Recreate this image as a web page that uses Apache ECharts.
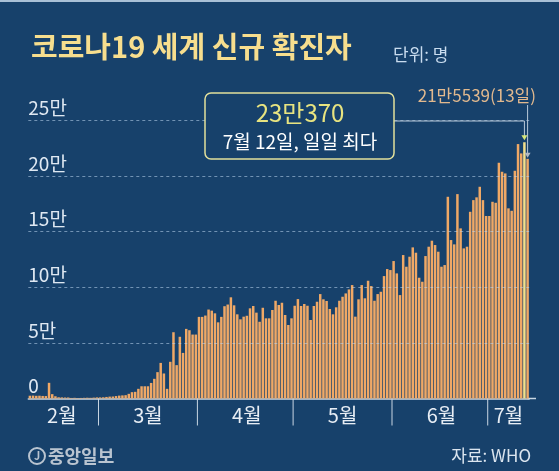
<!DOCTYPE html>
<html>
<head>
<meta charset="utf-8">
<style>
html, body { margin: 0; padding: 0; background: #17416b; }
#chart { width: 559px; height: 471px; }
</style>
<script src="https://cdn.jsdelivr.net/npm/echarts@6/dist/echarts.min.js"></script>
</head>
<body>
<div id="chart"></div>
<script>
// 2020년 2월 8일 ~ 7월 13일 일별 신규 확진자 (WHO)
var febCases = [2500, 2600, 2400, 2500, 2300, 2200, 14100, 3900, 2000, 1100, 1000, 900, 900, 500, 600, 400, 500, 600, 700, 600, 800, 1000];
var marCases = [1000, 1100, 1400, 1700, 1800, 2200, 2600, 2800, 3000, 4200, 5700, 6000, 8700, 11000, 11000, 11000, 14000, 17700, 23700, 32000, 22500, 8700, 33000, 59600, 30000, 55500, 41000, 62600, 61400, 57500, 57500];
var aprCases = [73400, 73400, 74600, 80000, 79000, 76600, 68500, 73400, 83000, 84500, 91000, 83800, 75700, 71200, 73600, 74400, 81100, 83200, 77200, 69000, 81600, 72100, 72100, 79600, 87900, 84100, 86100, 75100, 66100, 72100];
var mayCases = [83400, 89400, 83200, 85000, 83400, 70600, 83200, 87000, 93900, 89200, 87700, 80500, 75700, 82000, 87900, 91500, 94500, 98100, 102000, 73600, 89200, 102000, 90100, 105900, 101100, 87900, 93900, 96000, 110100, 116400, 115500];
var junCases = [123600, 112500, 93000, 129000, 118500, 127500, 135900, 131100, 108600, 105000, 128100, 136500, 141900, 138000, 132000, 118500, 120000, 181400, 142500, 138600, 183800, 153000, 135000, 136500, 167900, 178400, 180900, 190400, 178400, 164100];
var julCases = [164100, 176900, 176000, 212000, 203900, 202400, 171000, 168800, 204800, 228800, 220400, 230370, 215539];

var monthNums = [2, 3, 4, 5, 6, 7];
var firstDays = [8, 1, 1, 1, 1, 1];
var labelDays = [18, 16, 16, 16, 16, 7];   // 월 이름을 붙이는 날 (각 구간 가운데)
var yTicks = [0, 50000, 100000, 150000, 200000, 250000];

var FONT = 'Noto Sans CJK KR';
var BG = '#17416b';
var AXIS_COLOR = '#c9d6e3';

var monthly = [febCases, marCases, aprCases, mayCases, junCases, julCases];
var days = [];
var cases = [];
monthly.forEach(function (arr, k) {
    arr.forEach(function (v, j) {
        days.push(monthNums[k] + '/' + (firstDays[k] + j));
        cases.push(v);
    });
});

var peakIdx = 0;
cases.forEach(function (v, i) { if (v > cases[peakIdx]) peakIdx = i; });
var lastIdx = cases.length - 1;

function man(v) {
    return Math.floor(v / 10000) + '만' + (v % 10000);
}
function parts(d) {
    var p = d.split('/');
    return [+p[0], +p[1]];
}

var chart = echarts.init(document.getElementById('chart'));
var option = {
    animation: false,
    backgroundColor: BG,
    title: [{
        text: '코로나19 세계 신규 확진자',
        left: 26,
        top: 27,
        textStyle: { color: '#f7de8e', fontSize: 29, fontWeight: 'bold', fontFamily: FONT }
    }, {
        text: '단위: 명',
        left: 388,
        top: 41,
        textStyle: { color: '#c9dcef', fontSize: 17, fontWeight: 'normal', fontFamily: FONT }
    }],
    grid: { left: 28.3, right: 29.8, top: 120.5, bottom: 72.5 },
    xAxis: {
        type: 'category',
        data: days,
        axisLine: { lineStyle: { color: AXIS_COLOR, width: 1.5 } },
        axisTick: { show: false },
        axisLabel: {
            color: '#e8eef5',
            fontSize: 20,
            fontFamily: FONT,
            margin: 7,
            interval: function (i, d) {
                var p = parts(d);
                return labelDays[monthNums.indexOf(p[0])] === p[1];
            },
            formatter: function (d) { return parts(d)[0] + '월'; }
        }
    },
    yAxis: {
        type: 'value',
        min: yTicks[0],
        max: yTicks[yTicks.length - 1],
        interval: yTicks[1] - yTicks[0],
        axisLine: { show: false },
        axisTick: { show: false },
        splitLine: { show: false },
        axisLabel: {
            inside: true,
            margin: 0,
            align: 'left',
            verticalAlign: 'bottom',
            padding: [0, 0, 3, 0],
            color: '#dfe8f2',
            fontSize: 19,
            fontFamily: FONT,
            formatter: function (v) { return v === 0 ? '0' : (v / 10000) + '만'; }
        }
    },
    series: [{
        type: 'bar',
        barWidth: '78%',
        data: cases.map(function (v, i) {
            return i === peakIdx ? { value: v, itemStyle: { color: '#f3df8a' } } : v;
        }),
        itemStyle: { color: '#efa866' },
        markLine: {
            silent: true,
            symbol: ['none', 'none'],
            label: { show: false },
            lineStyle: { type: [3, 3], color: 'rgba(190,215,240,0.55)', width: 1 },
            data: yTicks.slice(1).map(function (v) { return { yAxis: v }; })
        }
    }]
};
chart.setOption(option);

function px(i, v) {
    return chart.convertToPixel({ gridIndex: 0 }, [i, v]);
}
var peakPt = px(peakIdx, cases[peakIdx]);
var lastPt = px(lastIdx, cases[lastIdx]);
var basePt = px(0, 0);
var lineColor = '#b9c9d9';
var lastDay = parts(days[lastIdx]);
var peakDay = parts(days[peakIdx]);

var graphics = [
    { type: 'rect', shape: { x: 0, y: 0, width: 559, height: 2 }, style: { fill: '#a9c0d6' } },
    // x축 선을 오른쪽으로 조금 연장
    {
        type: 'line',
        shape: { x1: lastPt[0], y1: basePt[1], x2: 536, y2: basePt[1] },
        style: { stroke: AXIS_COLOR, lineWidth: 1.5 }
    }
];

// 월 경계 구분선
days.forEach(function (d, i) {
    if (i > 0 && parts(d)[1] === 1) {
        var x = (px(i, 0)[0] + px(i - 1, 0)[0]) / 2;
        graphics.push({
            type: 'line',
            shape: { x1: x, y1: basePt[1], x2: x, y2: basePt[1] + 27 },
            style: { stroke: AXIS_COLOR, lineWidth: 1 }
        });
    }
});

graphics = graphics.concat([
    // 최고치 박스
    {
        type: 'polyline', z: 100,
        shape: { points: [[394, 121], [peakPt[0], 121], [peakPt[0], peakPt[1] - 6]] },
        style: { stroke: lineColor, lineWidth: 1, fill: null }
    },
    {
        type: 'polygon', z: 101,
        shape: { points: [[peakPt[0] - 3, peakPt[1] - 7], [peakPt[0] + 3, peakPt[1] - 7], [peakPt[0], peakPt[1] - 2]] },
        style: { fill: '#d6e77a' }
    },
    {
        type: 'rect', z: 100,
        shape: { x: 205, y: 93, width: 189, height: 66, r: 6 },
        style: { fill: BG, stroke: '#e2e09c', lineWidth: 1.5 }
    },
    {
        type: 'text', z: 101, x: 300, y: 113,
        style: { text: man(cases[peakIdx]), fill: '#e8e480', font: '24px "' + FONT + '"', align: 'center', verticalAlign: 'middle' }
    },
    {
        type: 'text', z: 101, x: 300, y: 142,
        style: { text: peakDay[0] + '월 ' + peakDay[1] + '일, 일일 최다', fill: '#ffffff', font: '19px "' + FONT + '"', align: 'center', verticalAlign: 'middle' }
    },
    // 마지막 날
    {
        type: 'text', z: 101, x: 536, y: 96,
        style: { text: man(cases[lastIdx]) + '(' + lastDay[1] + '일)', fill: '#e2b98e', font: '17px "' + FONT + '"', align: 'right', verticalAlign: 'middle' }
    },
    {
        type: 'line', z: 100,
        shape: { x1: lastPt[0], y1: 105, x2: lastPt[0], y2: lastPt[1] - 5 },
        style: { stroke: lineColor, lineWidth: 1 }
    },
    {
        type: 'polygon', z: 101,
        shape: { points: [[lastPt[0] - 3, lastPt[1] - 6], [lastPt[0] + 3, lastPt[1] - 6], [lastPt[0], lastPt[1] - 1]] },
        style: { fill: '#b0b8c2' }
    },
    // 하단
    {
        type: 'circle', shape: { cx: 37, cy: 456, r: 8 },
        style: { fill: null, stroke: '#b9c4d0', lineWidth: 2 }
    },
    {
        type: 'text', x: 37, y: 456,
        style: { text: 'J', fill: '#b9c4d0', font: 'bold 11px "' + FONT + '"', align: 'center', verticalAlign: 'middle' }
    },
    {
        type: 'text', x: 48, y: 456,
        style: { text: '중앙일보', fill: '#b9c4d0', font: 'bold 18px "' + FONT + '"', align: 'left', verticalAlign: 'middle' }
    },
    {
        type: 'text', x: 531, y: 456,
        style: { text: '자료: WHO', fill: '#dbe5ef', font: '17px "' + FONT + '"', align: 'right', verticalAlign: 'middle' }
    }
]);

chart.setOption({ graphic: graphics });

window.onresize = function () {
    chart && chart.resize();
};
</script>
</body>
</html>
